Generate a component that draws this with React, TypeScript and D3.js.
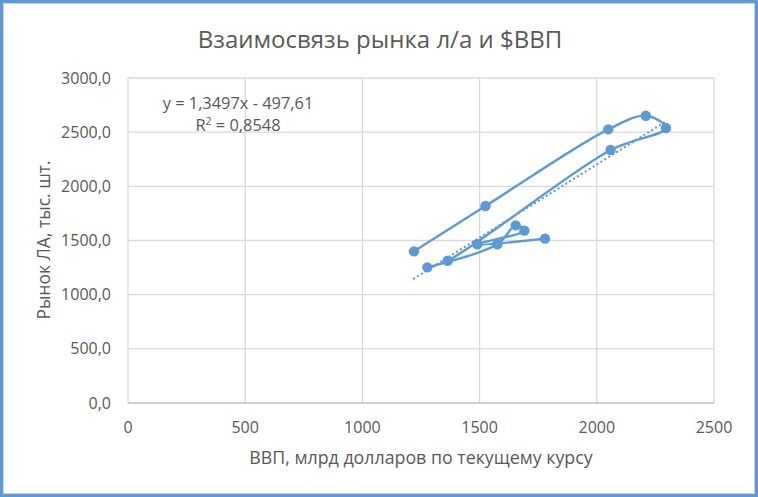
import { useRef, useEffect } from "react";
import * as d3 from "d3";

// ВВП (млрд $) и рынок ЛА (тыс. шт.), в порядке соединения линии
const gdp = [1220, 1525, 2049, 2209, 2295, 2059, 1364, 1277, 1576, 1654, 1691, 1490, 1779];
const market = [1400, 1818, 2526, 2652, 2538, 2335, 1313, 1252, 1465, 1640, 1591, 1465, 1517];

const xTicks = [0, 500, 1000, 1500, 2000, 2500];
const yTicks = [0, 500, 1000, 1500, 2000, 2500, 3000];

const trendSlope = 1.3497;
const trendIntercept = -497.61;

const TITLE = "Взаимосвязь рынка л/а и $ВВП";
const X_TITLE = "ВВП, млрд долларов по текущему курсу";
const Y_TITLE = "Рынок ЛА, тыс. шт.";
const EQ_LINE = "y = 1,3497x - 497,61";
const R2_VALUE = "0,8548";

const BLUE = "#5b9bd5";
const TEXT = "#595959";
const GRID = "#d9d9d9";
const FONT = "'Open Sans', 'Liberation Sans', sans-serif";

export default function App() {
  const svgRef = useRef<SVGSVGElement>(null);

  useEffect(() => {
    if (!svgRef.current) return;
    const svg = d3.select(svgRef.current);
    svg.selectAll("*").remove();

    const width = 758;
    const height = 497;
    const margin = { top: 78, right: 44, bottom: 94, left: 128 };
    const w = width - margin.left - margin.right;
    const h = height - margin.top - margin.bottom;

    // Frame
    svg.append("rect").attr("width", width).attr("height", height).attr("fill", "#fff");
    svg.append("rect")
      .attr("x", 1.5).attr("y", 1.5)
      .attr("width", width - 3).attr("height", height - 3)
      .attr("fill", "none").attr("stroke", BLUE).attr("stroke-width", 3);
    svg.append("rect")
      .attr("x", 3.5).attr("y", 3.5)
      .attr("width", width - 7).attr("height", height - 7)
      .attr("fill", "none").attr("stroke", "#d0d0d0").attr("stroke-width", 1);

    // Title
    svg.append("text")
      .attr("x", 380).attr("y", 48)
      .attr("text-anchor", "middle")
      .attr("font-family", FONT).attr("font-size", 24)
      .attr("fill", TEXT)
      .text(TITLE);

    const g = svg.append("g").attr("transform", `translate(${margin.left},${margin.top})`);

    const x = d3.scaleLinear().domain([0, 2500]).range([0, w]);
    const y = d3.scaleLinear().domain([0, 3000]).range([h, 0]);

    // Gridlines
    g.selectAll(".vgrid")
      .data(xTicks)
      .enter()
      .append("line")
      .attr("x1", (d) => x(d)).attr("x2", (d) => x(d))
      .attr("y1", 0).attr("y2", h)
      .attr("stroke", GRID).attr("stroke-width", 1.3);

    g.selectAll(".hgrid")
      .data(yTicks)
      .enter()
      .append("line")
      .attr("x1", 0).attr("x2", w)
      .attr("y1", (d) => y(d)).attr("y2", (d) => y(d))
      .attr("stroke", (d) => (d === 0 ? "#bfbfbf" : GRID)).attr("stroke-width", 1.3);

    // Axes labels
    const fmtY = (d: number) => d.toFixed(1).replace(".", ",");
    g.selectAll(".ylab")
      .data(yTicks)
      .enter()
      .append("text")
      .attr("x", -17).attr("y", (d) => y(d))
      .attr("dy", "0.35em")
      .attr("text-anchor", "end")
      .attr("font-family", FONT).attr("font-size", 16)
      .attr("fill", TEXT)
      .text(fmtY);

    g.selectAll(".xlab")
      .data(xTicks)
      .enter()
      .append("text")
      .attr("x", (d) => x(d)).attr("y", h + 30)
      .attr("text-anchor", "middle")
      .attr("font-family", FONT).attr("font-size", 16)
      .attr("fill", TEXT)
      .text((d) => String(d));

    svg.append("text")
      .attr("x", 421).attr("y", 464)
      .attr("text-anchor", "middle")
      .attr("font-family", FONT).attr("font-size", 17.8)
      .attr("fill", TEXT)
      .text(X_TITLE);

    svg.append("text")
      .attr("transform", `translate(50,240) rotate(-90)`)
      .attr("text-anchor", "middle")
      .attr("font-family", FONT).attr("font-size", 17.5)
      .attr("fill", TEXT)
      .text(Y_TITLE);

    // Trend line (linear, dotted)
    const xMin = d3.min(gdp) as number;
    const xMax = d3.max(gdp) as number;
    g.append("line")
      .attr("x1", x(xMin)).attr("y1", y(trendSlope * xMin + trendIntercept))
      .attr("x2", x(xMax)).attr("y2", y(trendSlope * xMax + trendIntercept))
      .attr("stroke", BLUE).attr("stroke-width", 2.2)
      .attr("stroke-dasharray", "0.1 4.5")
      .attr("stroke-linecap", "round");

    // Smoothed series line
    const pts: [number, number][] = gdp.map((v, i) => [v, market[i]]);
    const line = d3.line<[number, number]>()
      .x((d) => x(d[0]))
      .y((d) => y(d[1]))
      .curve(d3.curveCatmullRom.alpha(0.5));

    g.append("path")
      .datum(pts)
      .attr("d", line)
      .attr("fill", "none")
      .attr("stroke", BLUE)
      .attr("stroke-width", 2.4);

    g.selectAll(".pt")
      .data(pts)
      .enter()
      .append("circle")
      .attr("cx", (d) => x(d[0]))
      .attr("cy", (d) => y(d[1]))
      .attr("r", 5.2)
      .attr("fill", BLUE);

    // Equation label
    const eq = svg.append("text")
      .attr("font-family", FONT).attr("font-size", 16.4)
      .attr("fill", TEXT)
      .attr("text-anchor", "middle");
    eq.append("tspan").attr("x", 238).attr("y", 109).text(EQ_LINE);
    const r2 = svg.append("text")
      .attr("x", 238).attr("y", 131)
      .attr("font-family", FONT).attr("font-size", 16.4)
      .attr("fill", TEXT)
      .attr("text-anchor", "middle");
    r2.append("tspan").text("R");
    r2.append("tspan").attr("font-size", 10.5).attr("dy", -6).text("2");
    r2.append("tspan").attr("dy", 6).text(` = ${R2_VALUE}`);
  }, []);

  return (
    <svg
      ref={svgRef}
      width={758}
      height={497}
      style={{ position: "absolute", left: 0, top: 0 }}
    />
  );
}
